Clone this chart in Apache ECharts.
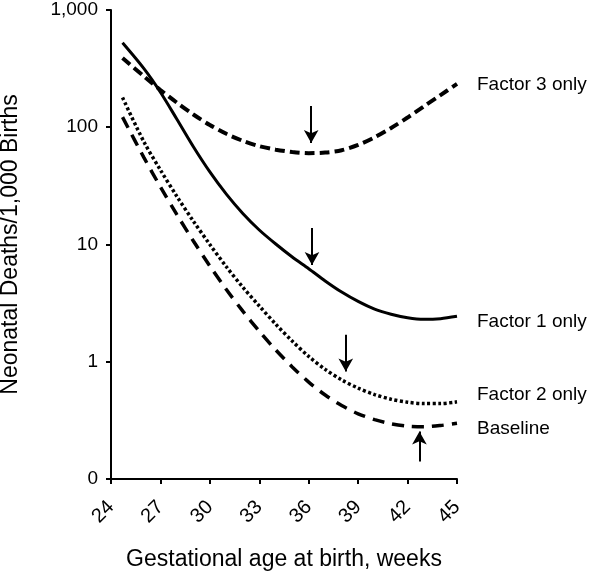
<!DOCTYPE html>
<html>
<head>
<meta charset="utf-8">
<script src="https://cdn.jsdelivr.net/npm/echarts@6/dist/echarts.min.js"></script>
<style>
html,body{margin:0;padding:0;background:#fff;}
#chart{width:600px;height:572px;}
</style>
</head>
<body>
<div id="chart"></div>
<script>
// ---- data ----
var xTicks = [24, 27, 30, 33, 36, 39, 42, 45];
var yTickLabels = ['0', '1', '10', '100', '1,000'];

var f1Weeks = [24.7, 26, 27, 28, 29, 30, 31, 32, 33, 34, 35, 36, 37, 38, 39, 40, 41, 42, 43, 44, 45];
var f1Vals  = [525, 316, 199, 117, 68.2, 41.6, 26.9, 18.4, 13.3, 10.1, 7.83, 6.22, 4.89, 3.93, 3.27, 2.81, 2.54, 2.37, 2.30, 2.33, 2.44];

var f3Weeks = [24.7, 26, 27, 28, 29, 30, 31, 32, 33, 34, 35, 36, 37, 38, 39, 40, 41, 42, 43, 44, 45];
var f3Vals  = [389, 272, 208, 162, 128.5, 104.5, 87.9, 76.6, 69.0, 64.4, 61.5, 60.1, 60.8, 63.7, 70.6, 82.0, 98.6, 121, 151, 188, 234];

var f2Weeks = [24.7, 26, 27, 28, 29, 30, 31, 32, 33, 34, 35, 36, 37, 38, 39, 40, 41, 42, 43, 44, 45];
var f2Vals  = [179, 75, 43.2, 25.7, 15.8, 10.0, 6.46, 4.32, 2.99, 2.09, 1.50, 1.11, 0.861, 0.700, 0.596, 0.525, 0.479, 0.452, 0.440, 0.440, 0.455];

var bWeeks = [24.7, 26, 27, 28, 29, 30, 31, 32, 33, 34, 35, 36, 37, 38, 39, 40, 41, 42, 43, 44, 45];
var bVals  = [122, 55.1, 31.0, 18.0, 10.7, 6.55, 4.13, 2.70, 1.82, 1.26, 0.904, 0.670, 0.520, 0.423, 0.360, 0.321, 0.296, 0.282, 0.279, 0.286, 0.299];

var seriesNames = ['Factor 3 only', 'Factor 1 only', 'Factor 2 only', 'Baseline'];

// arrows: week, start value, tip value
var arrowWeeks = [36.15, 36.2, 38.25, 42.72];
var arrowFrom  = [152, 13.8, 1.70, 0.141];
var arrowTo    = [73.5, 6.7, 0.825, 0.254];

// ---- build ----
function pairs(xs, ys) { return xs.map(function (x, i) { return [x, ys[i]]; }); }
var FONT = '"Liberation Sans", Arial, Helvetica, sans-serif';

function arrowLine(i) {
  return {
    silent: true,
    animation: false,
    symbol: ['none', 'arrow'],
    symbolSize: [11, 13],
    lineStyle: { color: '#000', width: 2, type: 'solid' },
    label: { show: false },
    emphasis: { disabled: true },
    data: [[{ coord: [arrowWeeks[i], arrowFrom[i]] }, { coord: [arrowWeeks[i], arrowTo[i]] }]]
  };
}

function mkSeries(name, data, lineStyle, labelOffset, arrowIdx) {
  return {
    name: name,
    type: 'line',
    data: data,
    smooth: 0.3,
    showSymbol: false,
    symbol: 'none',
    silent: true,
    lineStyle: lineStyle,
    endLabel: {
      show: true,
      formatter: function (p) { return p.seriesName; },
      color: '#000',
      fontSize: 19,
      fontFamily: FONT,
      distance: 20,
      offset: [0, labelOffset]
    },
    markLine: arrowLine(arrowIdx)
  };
}

var option = {
  animation: false,
  backgroundColor: '#fff',
  grid: { left: 111, right: 143, top: 10, bottom: 93, containLabel: false, outerBoundsMode: 'none' },
  xAxis: {
    type: 'value',
    min: xTicks[0],
    max: xTicks[xTicks.length - 1],
    interval: 3,
    name: 'Gestational age at birth, weeks',
    nameLocation: 'middle',
    nameGap: 69,
    nameMoveOverlap: false,
    nameTextStyle: { color: '#000', fontSize: 23, fontFamily: FONT },
    axisLine: { show: true, lineStyle: { color: '#000', width: 2 } },
    axisTick: { show: true, length: 5, lineStyle: { color: '#000', width: 2 } },
    axisLabel: { color: '#000', fontSize: 20, fontFamily: FONT, rotate: 45, margin: 25, hideOverlap: false },
    splitLine: { show: false }
  },
  yAxis: {
    type: 'log',
    logBase: 10,
    min: 0.1,
    max: 1000,
    name: 'Neonatal Deaths/1,000 Births',
    nameLocation: 'middle',
    nameGap: 89,
    nameTextStyle: { color: '#000', fontSize: 23, fontFamily: FONT },
    axisLine: { show: true, lineStyle: { color: '#000', width: 2 } },
    axisTick: { show: true, length: 5, lineStyle: { color: '#000', width: 2 } },
    axisLabel: {
      color: '#000', fontSize: 19, fontFamily: FONT, margin: 13,
      formatter: function (v) {
        var k = Math.round(Math.log10(v)) + 1;
        return yTickLabels[k] !== undefined ? yTickLabels[k] : '';
      }
    },
    splitLine: { show: false },
    minorTick: { show: false }
  },
  series: [
    mkSeries(seriesNames[0], pairs(f3Weeks, f3Vals), { color: '#000', width: 4, type: [10, 5] }, 1, 0),
    mkSeries(seriesNames[1], pairs(f1Weeks, f1Vals), { color: '#000', width: 3, type: 'solid' }, 5, 1),
    mkSeries(seriesNames[2], pairs(f2Weeks, f2Vals), { color: '#000', width: 3.5, type: [3, 2.5] }, -7, 2),
    mkSeries(seriesNames[3], pairs(bWeeks, bVals), { color: '#000', width: 3.5, type: [12, 8] }, 6, 3)
  ]
};

var chart = echarts.init(document.getElementById('chart'), null, { renderer: 'canvas' });
chart.setOption(option);
</script>
</body>
</html>
